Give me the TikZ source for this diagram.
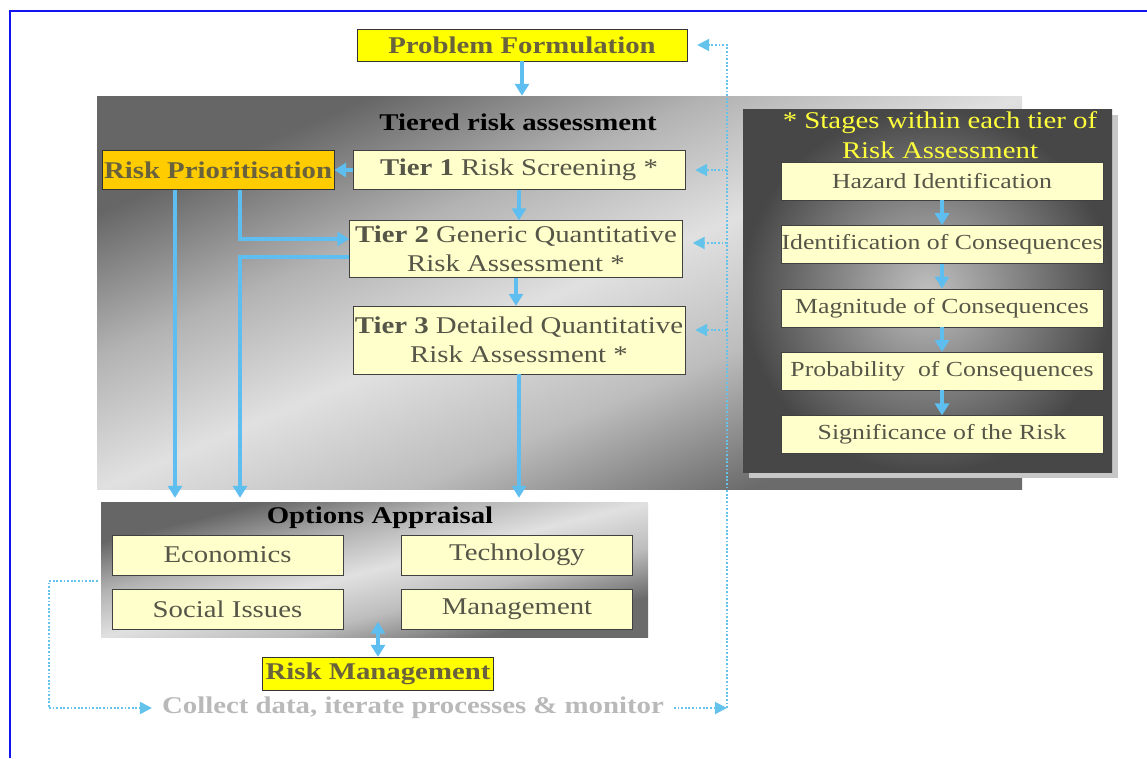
\documentclass[tikz,border=0pt]{standalone}
\usepackage{fontspec}
\setmainfont{Liberation Serif}[FakeStretch=1.2]
\usetikzlibrary{positioning,arrows.meta}

\definecolor{flowblue}{RGB}{95,190,240}
\definecolor{dotblue}{RGB}{100,195,235}
\definecolor{paleyellow}{RGB}{255,255,204}
\definecolor{keyyellow}{RGB}{255,255,0}
\definecolor{priorange}{RGB}{255,204,0}
\definecolor{boxtext}{RGB}{85,85,72}
\definecolor{keytext}{RGB}{105,98,60}
\definecolor{stagetitle}{RGB}{255,255,60}
\definecolor{monitorgray}{RGB}{185,185,185}
\definecolor{frameblue}{RGB}{20,20,240}

\pgfdeclarehorizontalshading{tiershade}{100bp}{color(0bp)=(black!60); color(25bp)=(black!60); color(38bp)=(black!30); color(50bp)=(black!12); color(62bp)=(black!26); color(75bp)=(black!58); color(100bp)=(black!58)}

\begin{document}
\begin{tikzpicture}[x=1pt,y=-1pt,
	panel/.style={shading=tiershade, shading angle=-45},
	stagepanel/.style={shading=radial, inner color=black!25, outer color=black!72, inner sep=0pt},
	anchorbox/.style={inner sep=0pt},
	tierbox/.style={draw=black!75, fill=paleyellow, text=boxtext, align=center,
	font=\fontsize{24}{29}\selectfont, minimum width=332pt, inner sep=0pt},
	stagebox/.style={draw=black!75, fill=paleyellow, text=boxtext,
	font=\fontsize{21.5}{24}\selectfont, minimum width=322pt, minimum height=38pt, inner sep=0pt},
	optbox/.style={draw=black!75, fill=paleyellow, text=boxtext,
	font=\fontsize{24}{28}\selectfont, minimum width=231pt, minimum height=40pt, inner sep=0pt},
	keybox/.style={draw=black!80, text=keytext, font=\bfseries\fontsize{24}{28}\selectfont, inner sep=0pt},
	heading/.style={font=\bfseries\fontsize{24}{28}\selectfont},
	flow/.style={draw=flowblue, line width=3.2pt, -{Triangle[length=12pt,width=14pt]}},
	loopline/.style={draw=dotblue, line width=2pt, dash pattern=on 1.8pt off 1.8pt},
	looptip/.style={-{Triangle[length=12pt,width=12pt]}},
	node distance=25pt
	]
	\useasboundingbox (0,0) rectangle (1147,758);
	\fill[white] (0,0) rectangle (1147,758);
	\draw[frameblue, line width=2pt] (10,758) -- (10,11) -- (1147,11);
	
	% panels
	\shade[panel, transform canvas={shift={(97,96)}, xscale=2.3537}] (0,0) rectangle (393,393);
	\shade[panel, transform canvas={shift={(101,502)}, xscale=4.0519}] (0,0) rectangle (135,135);
	\node[anchorbox, minimum width=925pt, minimum height=393pt] (tiers) at (559.5,292.5) {};
	\node[anchorbox, minimum width=547pt, minimum height=135pt] (options) at (374.5,569.5) {};
	\fill[black!22] (749,115) rectangle (1118,478);
	\node[stagepanel, minimum width=369pt, minimum height=363pt] (stages) at (927.5,290.5) {};
	
	% tiered assessment
	\node[keybox, fill=keyyellow, minimum width=330pt, minimum height=32pt] (problem) at (522,45) {Problem Formulation};
	\node[heading] (tiertitle) at (518,122) {Tiered risk assessment};
	\node[keybox, fill=priorange, minimum width=232pt, minimum height=39pt] (prior) at (218,170) {Risk Prioritisation};
	\node[tierbox, minimum height=39pt] (tier1) at (519,170) {\textbf{Tier 1} Risk Screening *};
	\node[tierbox, minimum width=333pt, minimum height=57pt] (tier2) at (516,249) {\textbf{Tier 2} Generic Quantitative\\Risk Assessment *};
	\node[tierbox, minimum height=68pt] (tier3) at (519,340) {\textbf{Tier 3} Detailed Quantitative\\Risk Assessment *};
	
	% stages
	\node[text=stagetitle, align=center, font=\fontsize{24}{30}\selectfont] (stagetitle) at (940,135) {* Stages within each tier of\\Risk Assessment};
	\node[stagebox] (s1) at (942,181) {Hazard Identification};
	\node[stagebox] (s2) [below=of s1] {Identification of Consequences};
	\node[stagebox] (s3) [below=of s2] {Magnitude of Consequences};
	\node[stagebox] (s4) [below=of s3] {Probability~~of Consequences};
	\node[stagebox] (s5) [below=of s4] {Significance of the Risk};
	
	% options
	\node[heading] (opttitle) at (380,518) {Options Appraisal};
	\node[optbox] (econ) at (227.5,555) {Economics};
	\node[optbox] (tech) at (517,555) {Technology};
	\node[optbox] (social) at (227.5,609.5) {Social Issues};
	\node[optbox] (mgmt) at (517,609.5) {Management};
	\node[keybox, fill=keyyellow, minimum width=231pt, minimum height=33pt] (riskman) at (378,673.5) {Risk Management};
	\node[heading, text=monitorgray, inner sep=10pt] (collect) at (413,708) {Collect data, iterate processes \& monitor};
	
	\coordinate (loopleft) at (49,708);
	\coordinate (loopright) at (727,708);
	\coordinate (t2in) at ([yshift=6pt]tier2.east);
	\coordinate (t3in) at ([yshift=10pt]tier3.east);
	
	% solid connectors
	\draw[flow] (problem.south) -- (problem.south |- tiers.north);
	\draw[flow] (tier1.west) -- (prior.east);
	\draw[flow] (tier1.south) -- (tier1.south |- tier2.north);
	\draw[flow] (tier2.south) -- (tier2.south |- tier3.north);
	\draw[flow, shorten >=4pt] (tier3.south) -- (tier3.south |- options.north);
	\draw[flow, shorten >=4pt] ([xshift=-43pt]prior.south) -- ([xshift=-43pt]prior.south |- options.north);
	\draw[flow] ([xshift=22pt]prior.south) |- ([yshift=10pt]tier2.west);
	\draw[flow, shorten >=4pt] ([yshift=-8pt]tier2.west) -| ([xshift=22pt]prior.south |- options.north);
	\foreach \a/\b in {s1/s2,s2/s3,s3/s4,s4/s5}
	\draw[flow] (\a.south) -- (\b.north);
	\draw[flow, {Triangle[length=12pt,width=14pt]}-{Triangle[length=12pt,width=14pt]}] (riskman.north) -- ([yshift=8pt]riskman.north |- social.south);
	
	% monitoring loop
	\draw[loopline] ([xshift=-3pt,yshift=-11.5pt]options.west) -| (loopleft);
	\draw[loopline, looptip] (loopleft) -- (collect.west);
	\draw[loopline, looptip] (collect.east) -- (loopright);
	\draw[loopline, looptip, shorten >=10pt] (loopright) |- (problem.east);
	\draw[loopline, looptip, shorten >=10pt] (loopright |- tier1.east) -- (tier1.east);
	\draw[loopline, looptip, shorten >=10pt] (loopright |- t2in) -- (t2in);
	\draw[loopline, looptip, shorten >=10pt] (loopright |- t3in) -- (t3in);
\end{tikzpicture}
\end{document}
